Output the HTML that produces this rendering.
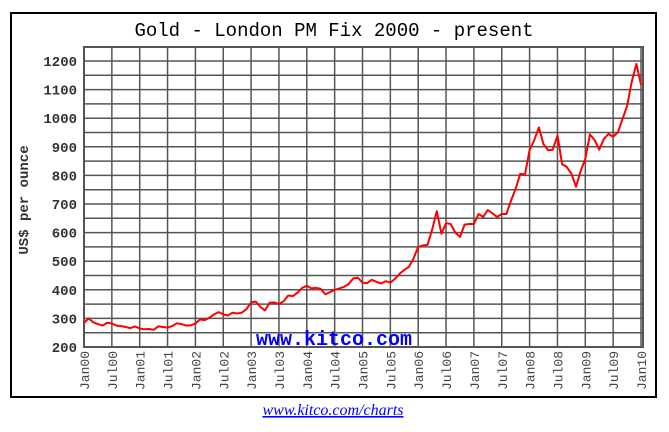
<!DOCTYPE html>
<html><head><meta charset="utf-8"><style>
html,body{margin:0;padding:0;background:#fff;width:669px;height:432px;overflow:hidden}
svg{display:block}
</style></head><body>
<svg width="669" height="432" xmlns="http://www.w3.org/2000/svg">
<rect x="11" y="13" width="645" height="384" fill="#fff" stroke="#000" stroke-width="2"/>
<text x="334" y="36" text-anchor="middle" font-family="Liberation Mono, monospace" font-size="19" fill="#000">Gold - London PM Fix 2000 - present</text>
<g id="grid"></g>
<g id="yticks"></g>
<g id="xticks"></g>
<text transform="translate(28,200) rotate(-90)" text-anchor="middle" font-family="Liberation Mono, monospace" font-weight="bold" font-size="14" fill="#333">US$ per ounce</text>
<text x="334" y="345" text-anchor="middle" font-family="Liberation Mono, monospace" font-weight="bold" font-size="20" fill="#0000ff">www.kitco.com</text>
<path id="line" fill="none" stroke="#ff0000" stroke-width="2" stroke-linejoin="round"/>
<text x="333" y="415" text-anchor="middle" font-family="Liberation Serif, serif" font-style="italic" font-size="16" fill="#0000ff" text-decoration="underline">www.kitco.com/charts</text>
</svg>
<script>
const yTicks=[200,300,400,500,600,700,800,900,1000,1100,1200];
const xLabels=["Jan00","Jul00","Jan01","Jul01","Jan02","Jul02","Jan03","Jul03","Jan04","Jul04","Jan05","Jul05","Jan06","Jul06","Jan07","Jul07","Jan08","Jul08","Jan09","Jul09","Jan10"];
const prices=[284,300,286,280,275,285,282,275,273,270,266,272,
265,262,263,260,272,270,268,273,283,280,275,276,
282,296,294,302,314,322,314,310,320,317,320,333,
356,359,340,328,355,356,350,360,380,378,390,407,
414,405,407,403,384,392,400,405,410,420,440,442,
425,423,435,428,422,430,425,438,456,470,480,510,
550,555,557,610,675,596,633,630,600,585,628,630,
630,665,655,679,667,655,665,665,712,754,806,803,
889,923,968,909,888,890,940,839,830,806,760,816,
858,943,924,890,928,945,935,950,996,1043,1127,1190,1117];
const NS="http://www.w3.org/2000/svg";
const L=84,R=643,T=47,B=347;
const y=v=>B-(v-200)*(B-61)/1000;
const x=m=>L+m*(641-L)/120;
function mk(t,a,p){const e=document.createElementNS(NS,t);for(const k in a)e.setAttribute(k,a[k]);p.appendChild(e);return e;}
const g=document.getElementById('grid');
mk('rect',{x:L,y:T,width:R-L,height:B-T,fill:'none',stroke:'#555','stroke-width':2},g);
for(let v=250;v<=1250;v+=50){const l=mk('line',{x1:L,x2:R,y1:y(v),y2:y(v),stroke:'#555','stroke-width':1.5},g);

}
xLabels.forEach((s,i)=>{const l=mk('line',{x1:x(i*6),x2:x(i*6),y1:T,y2:B,stroke:'#555','stroke-width':1.5},g);

});
const yt=document.getElementById('yticks');
yTicks.forEach(v=>{const t=mk('text',{x:77,y:y(v)+5,'text-anchor':'end','font-family':'Liberation Mono, monospace','font-weight':'bold','font-size':14,fill:'#333'},yt);t.textContent=v;

});
const xt=document.getElementById('xticks');
xLabels.forEach((s,i)=>{const t=mk('text',{transform:`translate(${x(i*6)+5},${B+4}) rotate(-90)`,'text-anchor':'end','font-family':'Liberation Mono, monospace','font-size':13,fill:'#444'},xt);t.textContent=s;

});
document.getElementById('line').setAttribute('d',prices.map((v,i)=>(i?'L':'M')+x(i).toFixed(1)+','+y(v).toFixed(1)).join(''));
</script>
</body></html>
